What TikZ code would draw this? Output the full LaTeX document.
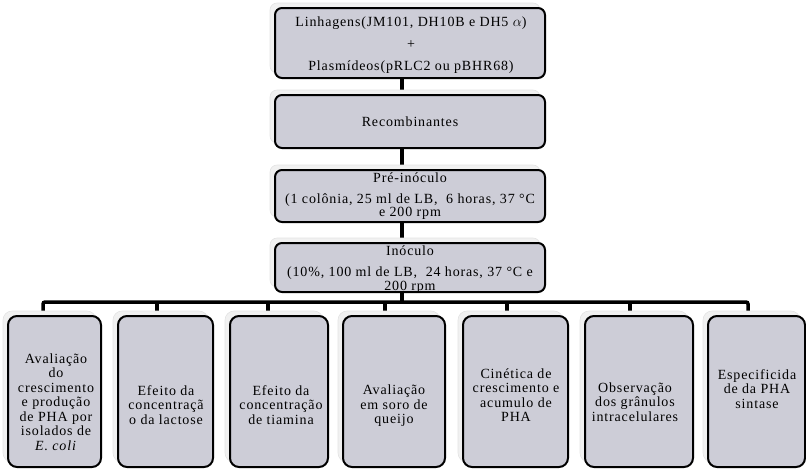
\documentclass[tikz,border=0pt]{standalone}
\usepackage{fontspec}
\setmainfont{Liberation Serif}[LetterSpace=6]
\usetikzlibrary{shadows,backgrounds,calc}
\definecolor{boxfill}{RGB}{205,205,215}
\definecolor{shadowfill}{RGB}{241,241,241}
\begin{document}
\begin{tikzpicture}[x=1pt,y=-1pt,
  box/.style={draw=black, line width=2pt, fill=boxfill, rounded corners=7pt, inner sep=0pt,
    drop shadow={shadow xshift=-5pt, shadow yshift=5pt, fill=shadowfill, draw=gray!22, line width=0.6pt, opacity=1}},
  topbox/.style={box, minimum width=270pt},
  botbox/.style={box, minimum height=151pt, rounded corners=9pt},
  txt/.style={align=center, inner sep=0pt, font=\fontsize{14}{14.5}\selectfont},
  conn/.style={line width=3.5pt, line cap=butt}]
\useasboundingbox (0,0) rectangle (806,471);
% top column
\node[topbox, minimum height=70pt] (A) at (410,43) {};
\node[topbox, minimum height=53pt] (B) at (410,121.5) {};
\node[topbox, minimum height=52pt] (C) at (410,196) {};
\node[topbox, minimum height=49pt] (D) at (410,267.5) {};
\node[txt] (At) at (411,45) {Linhagens(JM101, DH10B e DH5 $\alpha$)\\[7.5pt] +\\[7.5pt] Plasmídeos(pRLC2 ou pBHR68)};
\node[txt] (Bt) at (410,121.5) {Recombinantes};
\node[txt] (Ct) at (410,196) {Pré-inóculo\\[7pt] (1 colônia, 25 ml de LB,\ \ 6 horas, 37 °C\\[-1.5pt] e 200 rpm};
\node[txt] (Dt) at (410,269.5) {Inóculo\\[6.5pt] (10\%, 100 ml de LB,\ \ 24 horas, 37 °C e\\[-0.5pt] 200 rpm};
% bottom row
\node[botbox, minimum width=93pt]  (b1) at (54.5,391.5) {};
\node[botbox, minimum width=95pt]  (b2) at (165.5,391.5) {};
\node[botbox, minimum width=98pt]  (b3) at (279,391.5) {};
\node[botbox, minimum width=102pt] (b4) at (394,391.5) {};
\node[botbox, minimum width=105pt] (b5) at (515.5,391.5) {};
\node[botbox, minimum width=108pt] (b6) at (639,391.5) {};
\node[botbox, minimum width=97pt]  (b7) at (756.5,391.5) {};
\node[txt] (b1t) at (56,402) {Avaliação\\ do\\ crescimento\\ e produção\\ de PHA por\\ isolados de\\ \textit{E. coli}};
\node[txt] (b2t) at (166,405) {Efeito da\\ concentraçã\\ o da lactose};
\node[txt] (b3t) at (281,405) {Efeito da\\ concentração\\ de tiamina};
\node[txt] (b4t) at (394,406) {Avaliação\\ em soro de\\ queijo};
\node[txt] (b5t) at (516,395) {Cinética de\\ crescimento e\\ acumulo de\\ PHA};
\node[txt] (b6t) at (635,402) {Observação\\ dos grânulos\\ intracelulares};
\node[txt] (b7t) at (757,389) {Especificida\\ de da PHA\\ sintase};
% connectors
\begin{pgfonlayer}{background}
\draw[conn] ($(A.south)+(-8,0)$) -- ($(B.north)+(-8,0)$);
\draw[conn] ($(B.south)+(-8,0)$) -- ($(C.north)+(-8,0)$);
\draw[conn] ($(C.south)+(-8,0)$) -- ($(D.north)+(-8,0)$);
\coordinate (bus) at ($(D.south)+(-8,9)$);
\coordinate (t1) at ($(b1.north)+(-11.5,0)$);
\coordinate (t2) at ($(b2.north)+(-8.5,0)$);
\coordinate (t3) at ($(b3.north)+(-11,0)$);
\coordinate (t4) at ($(b4.north)+(-9,0)$);
\coordinate (t5) at ($(b5.north)+(-8.5,0)$);
\coordinate (t6) at ($(b6.north)+(-9,0)$);
\coordinate (t7) at ($(b7.north)+(-8.5,0)$);
\draw[conn, rounded corners=2pt] (t1) |- (bus) -| (t7);
\draw[conn] ($(D.south)+(-8,0)$) -- (bus);
\foreach \i in {2,...,6} \draw[conn] (t\i) -- (t\i |- bus);
\end{pgfonlayer}
\end{tikzpicture}
\end{document}
